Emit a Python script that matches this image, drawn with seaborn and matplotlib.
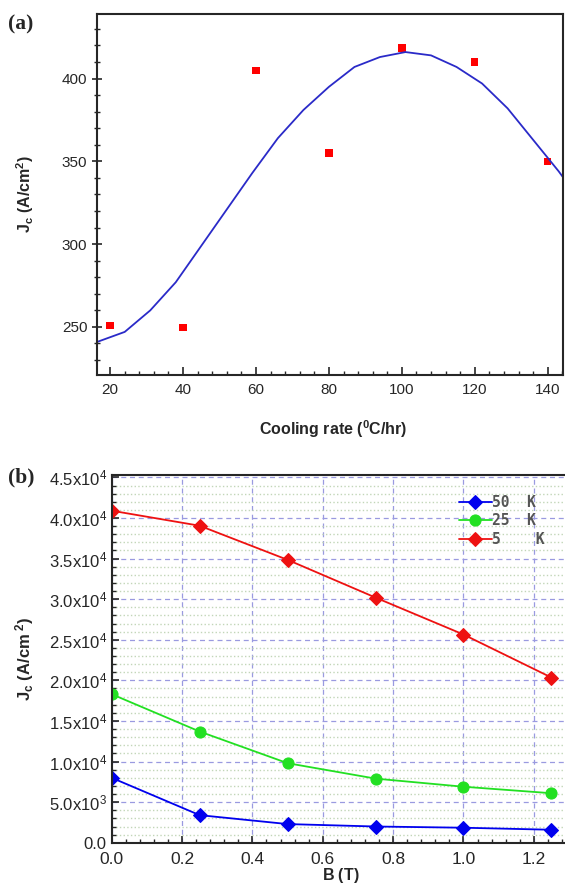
import matplotlib
matplotlib.use("Agg")
import matplotlib.pyplot as plt
import seaborn as sns
from matplotlib.ticker import MultipleLocator, FuncFormatter

# (a) Jc vs cooling rate: measured points and fitted curve
cooling_rate = [20, 40, 60, 80, 100, 120, 140]
jc_measured = [251, 249.5, 405, 355, 418.5, 410, 350]
fit_rate = [16.5, 24, 31, 38, 45, 52, 59, 66, 73, 80, 87, 94, 101, 108, 115, 122, 129, 136, 143, 145]
fit_jc = [241, 247, 260, 277, 299, 321, 343, 364, 381, 395, 407, 413, 416, 414, 407, 397, 382, 363, 344, 338]

# (b) Jc vs field at three temperatures
b_field = [0.0, 0.25, 0.5, 0.75, 1.0, 1.25]
jc_50k = [8000, 3400, 2300, 2000, 1850, 1600]
jc_25k = [18300, 13700, 9800, 7900, 6900, 6100]
jc_5k = [40900, 39050, 34850, 30200, 25650, 20350]

sns.set_style("ticks")
plt.rcParams["font.family"] = ["Liberation Sans", "DejaVu Sans"]
plt.rcParams["mathtext.fontset"] = "custom"
plt.rcParams["mathtext.rm"] = "Liberation Sans"
plt.rcParams["mathtext.it"] = "Liberation Sans:italic"
plt.rcParams["mathtext.bf"] = "Liberation Sans:bold"
plt.rcParams["mathtext.default"] = "rm"

fig = plt.figure(figsize=(5.65, 8.9), dpi=100)
ax1 = fig.add_axes([0.1717, 0.5787, 0.8248, 0.4056])
ax2 = fig.add_axes([0.1977, 0.0531, 0.8094, 0.4132])

# ---- panel (a)
sns.lineplot(x=fit_rate, y=fit_jc, ax=ax1, color="#2a2ac8", linewidth=1.3)
sns.scatterplot(x=cooling_rate, y=jc_measured, ax=ax1, marker="s", color="#ff0000",
                s=28, edgecolor="none")
ax1.set_xlim(16.4, 144.2)
ax1.set_ylim(221, 439)
ax1.xaxis.set_major_locator(MultipleLocator(20))
ax1.xaxis.set_minor_locator(MultipleLocator(4))
ax1.yaxis.set_major_locator(MultipleLocator(50))
ax1.yaxis.set_minor_locator(MultipleLocator(10))
ax1.tick_params(axis="x", which="major", direction="in", length=6, width=1.2, labelsize=11, pad=6)
ax1.tick_params(axis="x", which="minor", direction="in", length=3, width=1.0)
ax1.tick_params(axis="y", which="major", direction="inout", length=7, width=1.2, labelsize=11)
ax1.tick_params(axis="y", which="minor", direction="inout", length=4, width=1.0)
for sp in ax1.spines.values():
    sp.set_linewidth(1.5)
ax1.set_xlabel(r"Cooling rate ($^{\mathbf{0}}$C/hr)", fontsize=11.5, fontweight="bold")
ax1.set_ylabel(r"$\mathbf{J_c\ (A/cm^2)}$", fontsize=11.5)
ax1.xaxis.set_label_coords(0.506, -0.12)
ax1.yaxis.set_label_coords(-0.13, 0.5)
fig.text(0.015, 0.972, "(a)", fontsize=15.5, fontweight="bold",
         family=["Liberation Serif", "DejaVu Serif"], va="center")

# ---- panel (b)
ax2.set_axisbelow(True)
ax2.yaxis.set_minor_locator(MultipleLocator(1000))
ax2.xaxis.set_minor_locator(MultipleLocator(0.04))
ax2.grid(True, which="minor", axis="y", color="#c2d6b8", linestyle=":", linewidth=1.0)
ax2.grid(True, which="major", color="#9a9ae0", linestyle=(0, (4, 3)), linewidth=0.9)
sns.lineplot(x=b_field, y=jc_50k, ax=ax2, color="#0000ee", marker="D", markersize=7,
             markeredgecolor="#0000ee", linewidth=1.3, label="50  K")
sns.lineplot(x=b_field, y=jc_25k, ax=ax2, color="#22e022", marker="o", markersize=8,
             markeredgecolor="#22e022", linewidth=1.3, label="25  K")
sns.lineplot(x=b_field, y=jc_5k, ax=ax2, color="#ee1111", marker="D", markersize=7,
             markeredgecolor="#ee1111", linewidth=1.3, label="5    K")
ax2.set_xlim(0, 1.3)
ax2.set_ylim(0, 45300)
ax2.xaxis.set_major_locator(MultipleLocator(0.2))
ax2.yaxis.set_major_locator(MultipleLocator(5000))


def sci_fmt(v, pos):
    if v == 0:
        return "0.0"
    exp = len(str(int(v))) - 1
    mant = v / 10 ** exp
    return r"$%.1f\mathrm{x}10^{%d}$" % (mant, exp)


ax2.yaxis.set_major_formatter(FuncFormatter(sci_fmt))
ax2.xaxis.set_major_formatter(FuncFormatter(lambda v, p: "%.1f" % v))
ax2.tick_params(axis="y", which="major", direction="in", length=5, width=1.2, labelsize=12)
ax2.tick_params(axis="x", which="major", direction="in", length=5, width=1.2, labelsize=12.5, pad=7)
ax2.tick_params(axis="both", which="minor", direction="in", length=3, width=1.0)
for sp in ax2.spines.values():
    sp.set_linewidth(1.5)
ax2.set_xlabel(r"$\mathbf{B\ (T)}$", fontsize=11.5)
ax2.set_ylabel(r"$\mathbf{J_c\ (A/cm^{\ 2})}$", fontsize=12)
ax2.xaxis.set_label_coords(0.5, -0.062)
ax2.yaxis.set_label_coords(-0.165, 0.5)
leg = ax2.legend(loc="upper left", bbox_to_anchor=(0.73, 0.982), frameon=False,
                 prop={"family": "DejaVu Sans Mono", "size": 10.5, "weight": "bold"},
                 handlelength=2.3, handletextpad=0.0, labelspacing=0.25)
for t in leg.get_texts():
    t.set_color("#555555")
fig.text(0.015, 0.463, "(b)", fontsize=15.5, fontweight="bold",
         family=["Liberation Serif", "DejaVu Serif"], va="center")

fig.savefig("out.png", dpi=100)
